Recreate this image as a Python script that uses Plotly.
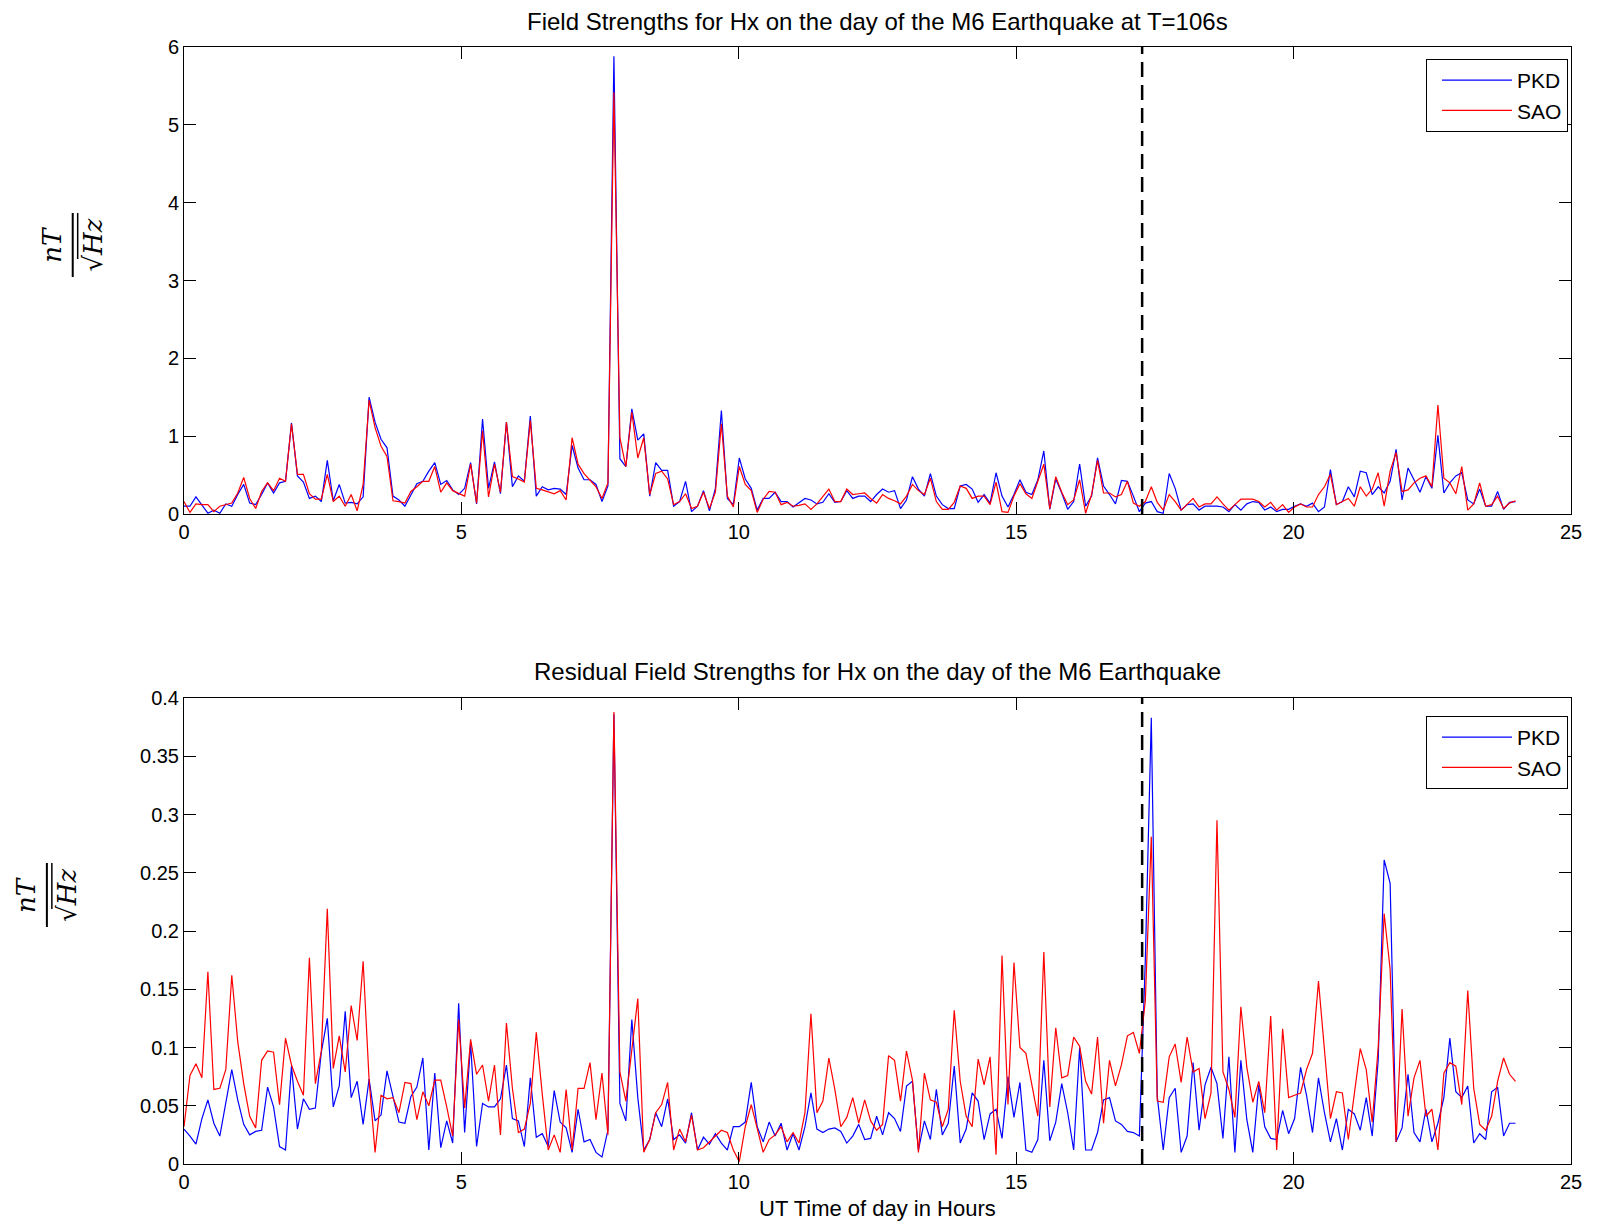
import numpy as np
import plotly.graph_objects as go

# sample times (hours UT), one value every ~6.5 minutes over the day
n_points = 224
t_step = 24 / 223
quake_time = 17.27

station_names = ["PKD", "SAO"]

# top panel: field strengths (nT/sqrt(Hz))
pkd_field = [
    0.10, 0.10, 0.22, 0.12, 0.01, 0.05, 0.01, 0.13, 0.10, 0.25,
    0.38, 0.14, 0.12, 0.25, 0.40, 0.27, 0.40, 0.42, 1.17, 0.49,
    0.41, 0.20, 0.23, 0.16, 0.69, 0.17, 0.38, 0.14, 0.15, 0.13,
    0.22, 1.50, 1.18, 0.96, 0.85, 0.23, 0.18, 0.10, 0.25, 0.39,
    0.42, 0.55, 0.66, 0.38, 0.43, 0.31, 0.25, 0.33, 0.66, 0.13,
    1.22, 0.33, 0.67, 0.26, 1.18, 0.35, 0.49, 0.42, 1.26, 0.23,
    0.35, 0.31, 0.33, 0.32, 0.25, 0.88, 0.59, 0.44, 0.44, 0.38,
    0.16, 0.36, 5.88, 0.71, 0.61, 1.35, 0.95, 1.03, 0.23, 0.66,
    0.56, 0.56, 0.10, 0.16, 0.42, 0.03, 0.10, 0.30, 0.04, 0.33,
    1.33, 0.20, 0.12, 0.72, 0.45, 0.33, 0.05, 0.20, 0.20, 0.28,
    0.16, 0.16, 0.09, 0.15, 0.20, 0.18, 0.13, 0.15, 0.26, 0.15,
    0.16, 0.30, 0.20, 0.23, 0.23, 0.16, 0.25, 0.32, 0.28, 0.30,
    0.07, 0.18, 0.48, 0.32, 0.23, 0.52, 0.23, 0.12, 0.07, 0.07,
    0.36, 0.38, 0.32, 0.15, 0.25, 0.14, 0.53, 0.23, 0.09, 0.25,
    0.44, 0.28, 0.25, 0.44, 0.81, 0.06, 0.45, 0.27, 0.06, 0.16,
    0.64, 0.10, 0.23, 0.72, 0.36, 0.25, 0.13, 0.43, 0.42, 0.23,
    0.03, 0.14, 0.16, 0.03, 0.01, 0.52, 0.33, 0.05, 0.12, 0.13,
    0.05, 0.10, 0.10, 0.10, 0.09, 0.03, 0.12, 0.05, 0.13, 0.16,
    0.15, 0.05, 0.09, 0.03, 0.06, 0.06, 0.10, 0.13, 0.10, 0.14,
    0.03, 0.09, 0.57, 0.12, 0.16, 0.35, 0.22, 0.55, 0.53, 0.25,
    0.35, 0.27, 0.42, 0.83, 0.18, 0.59, 0.44, 0.28, 0.48, 0.33,
    1.01, 0.27, 0.40, 0.49, 0.53, 0.18, 0.13, 0.32, 0.10, 0.10,
    0.29, 0.06, 0.15, 0.16,
]
sao_field = [
    0.16, 0.02, 0.13, 0.12, 0.12, 0.03, 0.10, 0.12, 0.14, 0.27,
    0.47, 0.20, 0.07, 0.29, 0.40, 0.30, 0.46, 0.42, 1.16, 0.51,
    0.51, 0.26, 0.19, 0.19, 0.51, 0.16, 0.23, 0.10, 0.25, 0.04,
    0.38, 1.46, 1.11, 0.87, 0.74, 0.17, 0.16, 0.14, 0.29, 0.35,
    0.42, 0.42, 0.61, 0.28, 0.40, 0.30, 0.26, 0.23, 0.64, 0.14,
    1.07, 0.22, 0.64, 0.28, 1.18, 0.48, 0.45, 0.41, 1.20, 0.33,
    0.31, 0.28, 0.26, 0.30, 0.18, 0.98, 0.64, 0.52, 0.44, 0.35,
    0.20, 0.40, 5.42, 0.98, 0.61, 1.31, 0.72, 0.98, 0.25, 0.52,
    0.55, 0.45, 0.12, 0.16, 0.26, 0.07, 0.10, 0.28, 0.07, 0.28,
    1.16, 0.23, 0.09, 0.61, 0.38, 0.30, 0.02, 0.19, 0.29, 0.28,
    0.12, 0.15, 0.10, 0.11, 0.13, 0.06, 0.13, 0.22, 0.32, 0.16,
    0.16, 0.32, 0.25, 0.26, 0.27, 0.20, 0.14, 0.25, 0.20, 0.17,
    0.13, 0.23, 0.38, 0.30, 0.25, 0.46, 0.16, 0.06, 0.06, 0.15,
    0.36, 0.33, 0.20, 0.23, 0.23, 0.12, 0.41, 0.03, 0.02, 0.23,
    0.39, 0.26, 0.20, 0.42, 0.64, 0.07, 0.48, 0.28, 0.12, 0.18,
    0.44, 0.01, 0.25, 0.69, 0.27, 0.27, 0.22, 0.25, 0.42, 0.14,
    0.10, 0.16, 0.35, 0.15, 0.05, 0.25, 0.16, 0.05, 0.12, 0.20,
    0.09, 0.13, 0.13, 0.22, 0.13, 0.05, 0.12, 0.19, 0.19, 0.19,
    0.16, 0.09, 0.15, 0.05, 0.12, 0.02, 0.09, 0.13, 0.09, 0.09,
    0.25, 0.35, 0.51, 0.12, 0.16, 0.20, 0.10, 0.35, 0.23, 0.32,
    0.53, 0.10, 0.55, 0.79, 0.29, 0.31, 0.40, 0.46, 0.49, 0.35,
    1.40, 0.46, 0.40, 0.26, 0.61, 0.05, 0.13, 0.40, 0.10, 0.12,
    0.23, 0.07, 0.14, 0.17,
]

# bottom panel: residual field strengths
pkd_resid = [
    0.030, 0.024, 0.017, 0.039, 0.055, 0.035, 0.024, 0.052, 0.081, 0.055,
    0.034, 0.025, 0.028, 0.029, 0.066, 0.049, 0.015, 0.012, 0.084, 0.030,
    0.056, 0.047, 0.048, 0.096, 0.125, 0.049, 0.067, 0.131, 0.057, 0.071,
    0.034, 0.073, 0.037, 0.042, 0.080, 0.058, 0.036, 0.035, 0.058, 0.066,
    0.091, 0.012, 0.078, 0.014, 0.037, 0.018, 0.138, 0.027, 0.104, 0.015,
    0.052, 0.049, 0.049, 0.056, 0.085, 0.039, 0.037, 0.015, 0.074, 0.023,
    0.026, 0.015, 0.063, 0.036, 0.031, 0.010, 0.047, 0.019, 0.021, 0.010,
    0.006, 0.029, 0.386, 0.052, 0.037, 0.124, 0.057, 0.012, 0.021, 0.044,
    0.032, 0.056, 0.021, 0.025, 0.018, 0.044, 0.012, 0.023, 0.017, 0.026,
    0.018, 0.012, 0.032, 0.032, 0.036, 0.070, 0.032, 0.019, 0.036, 0.024,
    0.035, 0.012, 0.026, 0.012, 0.032, 0.061, 0.030, 0.027, 0.030, 0.031,
    0.028, 0.018, 0.024, 0.034, 0.021, 0.022, 0.041, 0.025, 0.044, 0.039,
    0.028, 0.067, 0.071, 0.012, 0.037, 0.021, 0.064, 0.025, 0.035, 0.084,
    0.018, 0.030, 0.061, 0.054, 0.021, 0.043, 0.047, 0.022, 0.075, 0.040,
    0.070, 0.012, 0.010, 0.021, 0.089, 0.020, 0.036, 0.069, 0.044, 0.012,
    0.100, 0.012, 0.012, 0.027, 0.055, 0.057, 0.037, 0.034, 0.028, 0.027,
    0.024, 0.175, 0.383, 0.058, 0.012, 0.057, 0.065, 0.010, 0.024, 0.087,
    0.029, 0.068, 0.083, 0.069, 0.022, 0.092, 0.010, 0.089, 0.038, 0.010,
    0.068, 0.032, 0.022, 0.021, 0.046, 0.026, 0.039, 0.083, 0.059, 0.027,
    0.074, 0.044, 0.019, 0.039, 0.012, 0.047, 0.043, 0.029, 0.057, 0.024,
    0.089, 0.261, 0.241, 0.019, 0.031, 0.077, 0.027, 0.019, 0.047, 0.019,
    0.035, 0.057, 0.108, 0.062, 0.057, 0.067, 0.018, 0.026, 0.021, 0.062,
    0.066, 0.024, 0.035, 0.035,
]
sao_resid = [
    0.032, 0.076, 0.086, 0.074, 0.165, 0.064, 0.065, 0.081, 0.162, 0.105,
    0.069, 0.041, 0.031, 0.089, 0.097, 0.096, 0.051, 0.108, 0.085, 0.071,
    0.059, 0.177, 0.069, 0.097, 0.219, 0.082, 0.110, 0.079, 0.136, 0.106,
    0.174, 0.072, 0.010, 0.059, 0.056, 0.057, 0.044, 0.070, 0.069, 0.038,
    0.062, 0.050, 0.072, 0.072, 0.049, 0.024, 0.124, 0.048, 0.107, 0.077,
    0.085, 0.054, 0.085, 0.025, 0.121, 0.065, 0.027, 0.030, 0.052, 0.113,
    0.060, 0.012, 0.025, 0.010, 0.064, 0.012, 0.065, 0.065, 0.087, 0.038,
    0.078, 0.025, 0.388, 0.079, 0.054, 0.098, 0.142, 0.010, 0.021, 0.044,
    0.051, 0.070, 0.012, 0.030, 0.019, 0.042, 0.012, 0.014, 0.019, 0.024,
    0.029, 0.027, 0.012, 0.002, 0.032, 0.051, 0.031, 0.010, 0.021, 0.025,
    0.032, 0.019, 0.027, 0.018, 0.044, 0.129, 0.044, 0.054, 0.091, 0.064,
    0.032, 0.040, 0.057, 0.035, 0.055, 0.037, 0.029, 0.034, 0.093, 0.089,
    0.054, 0.097, 0.072, 0.010, 0.078, 0.055, 0.053, 0.032, 0.047, 0.132,
    0.071, 0.041, 0.032, 0.090, 0.068, 0.092, 0.008, 0.179, 0.051, 0.173,
    0.100, 0.095, 0.068, 0.041, 0.182, 0.049, 0.117, 0.074, 0.076, 0.109,
    0.101, 0.071, 0.060, 0.109, 0.035, 0.089, 0.067, 0.085, 0.110, 0.113,
    0.095, 0.140, 0.281, 0.054, 0.053, 0.092, 0.103, 0.070, 0.109, 0.079,
    0.082, 0.039, 0.061, 0.295, 0.079, 0.064, 0.040, 0.135, 0.083, 0.053,
    0.071, 0.044, 0.127, 0.012, 0.116, 0.057, 0.059, 0.061, 0.081, 0.095,
    0.157, 0.097, 0.039, 0.062, 0.061, 0.021, 0.061, 0.099, 0.081, 0.036,
    0.100, 0.215, 0.167, 0.019, 0.133, 0.041, 0.074, 0.089, 0.041, 0.047,
    0.012, 0.078, 0.087, 0.084, 0.051, 0.149, 0.065, 0.034, 0.029, 0.041,
    0.071, 0.091, 0.077, 0.071,
]

resid_ticks = [0, 0.05, 0.1, 0.15, 0.2, 0.25, 0.3, 0.35, 0.4]
resid_ticktext = ["0", "0.05", "0.1", "0.15", "0.2", "0.25", "0.3", "0.35", "0.4"]

title_top = "Field Strengths for Hx on the day of the M6 Earthquake at T=106s"
title_bottom = "Residual Field Strengths for Hx on the day of the M6 Earthquake"
xlabel = "UT Time of day in Hours"

hours = np.arange(n_points) * t_step

# page has an 8px body margin, so the figure is drawn 8px smaller than the window
OFF = 8
W, H = 1602 - 2 * OFF, 1232 - 2 * OFF
ML, MT = 184 - OFF, 47 - OFF
MR, MB = W - (1580 - OFF), H - (1164 - OFF)
PW, PH = W - ML - MR, H - MT - MB


# helpers take positions measured on the screenshot
def px_x(px):
    return (px - 184) / PW


def px_y(py):
    return (1164 - py) / PH


top_dom = [px_y(514), 1.0]
bot_dom = [0.0, px_y(698)]

FONT = "Liberation Sans, Arial, Helvetica, sans-serif"
SERIF = "DejaVu Serif, Liberation Serif, serif"
colors = {"PKD": "#0000ff", "SAO": "#ff0000"}

fig = go.Figure()

for name, ys in zip(station_names, [pkd_field, sao_field]):
    fig.add_trace(go.Scatter(x=hours, y=ys, mode="lines", name=name,
                             line=dict(color=colors[name], width=1.2),
                             xaxis="x", yaxis="y", legend="legend"))
for name, ys in zip(station_names, [pkd_resid, sao_resid]):
    fig.add_trace(go.Scatter(x=hours, y=ys, mode="lines", name=name,
                             line=dict(color=colors[name], width=1.2),
                             xaxis="x2", yaxis="y2", legend="legend2"))

axis_style = dict(showline=True, linecolor="black", linewidth=1, mirror="ticks",
                  ticks="inside", ticklen=12, tickcolor="black", tickwidth=1,
                  showgrid=False, zeroline=False,
                  tickfont=dict(family=FONT, size=20, color="black"))

legend_style = dict(xanchor="right", yanchor="top", bgcolor="white", bordercolor="black",
                    borderwidth=1, font=dict(family=FONT, size=21), itemwidth=70,
                    indentation=10)

fig.update_layout(
    width=W, height=H,
    margin=dict(l=ML, r=MR, t=MT, b=MB),
    paper_bgcolor="white", plot_bgcolor="white",
    font=dict(family=FONT, size=20, color="black"),
    xaxis=dict(domain=[0, 1], anchor="y", range=[0, 25], tickvals=[0, 5, 10, 15, 20, 25], **axis_style),
    yaxis=dict(domain=top_dom, anchor="x", range=[0, 6], tickvals=[0, 1, 2, 3, 4, 5, 6], **axis_style),
    xaxis2=dict(domain=[0, 1], anchor="y2", range=[0, 25], tickvals=[0, 5, 10, 15, 20, 25], **axis_style),
    yaxis2=dict(domain=bot_dom, anchor="x2", range=[0, 0.4], tickvals=resid_ticks,
                ticktext=resid_ticktext, **axis_style),
    legend=dict(x=px_x(1577), y=px_y(59), **legend_style),
    legend2=dict(x=px_x(1577), y=px_y(716), **legend_style),
    showlegend=True,
)

# earthquake time markers
for xr, yr in [("x", "y domain"), ("x2", "y2 domain")]:
    fig.add_shape(type="line", xref=xr, yref=yr, x0=quake_time, x1=quake_time, y0=0, y1=1,
                  line=dict(color="black", width=2.5, dash="15px,8px"))

# titles
fig.add_annotation(text=title_top, xref="paper", yref="paper", x=0.5, y=px_y(21),
                   showarrow=False, font=dict(size=24), xanchor="center", yanchor="middle")
fig.add_annotation(text=title_bottom, xref="paper", yref="paper", x=0.5, y=px_y(671),
                   showarrow=False, font=dict(size=24), xanchor="center", yanchor="middle")
fig.add_annotation(text=xlabel, xref="paper", yref="paper", x=0.5, y=px_y(1208),
                   showarrow=False, font=dict(size=22), xanchor="center", yanchor="middle")

# y labels: nT / sqrt(Hz), rotated
for cx, cy in [(72, 245), (46, 895)]:
    fig.add_annotation(text="<i>nT</i>", xref="paper", yref="paper", x=px_x(cx - 21), y=px_y(cy),
                       textangle=-90, showarrow=False, font=dict(family=SERIF, size=26),
                       xanchor="center", yanchor="middle")
    fig.add_annotation(text="√<i>Hz</i>", xref="paper", yref="paper", x=px_x(cx + 20), y=px_y(cy),
                       textangle=-90, showarrow=False, font=dict(family=SERIF, size=26),
                       xanchor="center", yanchor="middle")
    fig.add_shape(type="line", xref="paper", yref="paper", x0=px_x(cx), x1=px_x(cx),
                  y0=px_y(cy - 32), y1=px_y(cy + 32), line=dict(color="black", width=2))
    fig.add_shape(type="line", xref="paper", yref="paper", x0=px_x(cx + 5), x1=px_x(cx + 5),
                  y0=px_y(cy - 32), y1=px_y(cy + 14), line=dict(color="black", width=1.5))

fig.write_html("out.html")
